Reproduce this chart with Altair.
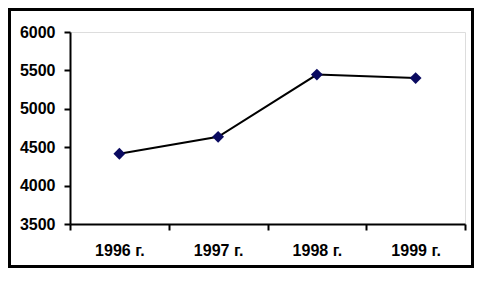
import altair as alt
import pandas as pd

years = ["1996 г.", "1997 г.", "1998 г.", "1999 г."]
values = [4415, 4635, 5445, 5400]
y_ticks = [3500, 4000, 4500, 5000, 5500, 6000]

df = pd.DataFrame({"year": years, "value": values})

W, H = 395, 192
PL, PT, PR, PB = 62, 24, 9, 44

x = alt.X("year:N", sort=years, title=None,
          scale=alt.Scale(paddingInner=0, paddingOuter=0),
          axis=alt.Axis(labelAngle=0, tickBand="extent", labelFont="Liberation Sans",
                        labelFontWeight="bold", labelFontSize=16, labelColor="black",
                        tickColor="black", domainColor="black", tickWidth=2, domainWidth=2,
                        tickSize=6, labelPadding=12))
y = alt.Y("value:Q", title=None,
          scale=alt.Scale(domain=[3500, 6000], nice=False, zero=False),
          axis=alt.Axis(values=y_ticks, format="d", grid=False, labelFont="Liberation Sans",
                        labelFontWeight="bold", labelFontSize=16, labelColor="black",
                        tickColor="black", domainColor="black", tickWidth=2, domainWidth=2,
                        tickSize=6, labelPadding=9))

base = alt.Chart(df)
line = base.mark_line(color="black", strokeWidth=2).encode(x=x, y=y)
pts = base.mark_point(shape="diamond", filled=True, size=140, color="#0a0a60", opacity=1).encode(x=x, y=y)

frame = alt.Chart(pd.DataFrame({"a": [0]})).mark_rect(
    fill=None, stroke="black", strokeWidth=3, filled=False
).encode(
    x=alt.value(-PL + 1.5), x2=alt.value(W + PR - 1.5),
    y=alt.value(-PT + 1.5), y2=alt.value(H + PB - 1.5)
)

chart = alt.layer(line, pts, frame).properties(
    width=W, height=H,
    autosize=alt.AutoSizeParams(type="none"),
    padding={"left": PL, "top": PT, "right": PR, "bottom": PB},
).configure_view(stroke=None).configure(background="white")

chart.save("out.html", embed_options={"renderer": "svg", "actions": False})
